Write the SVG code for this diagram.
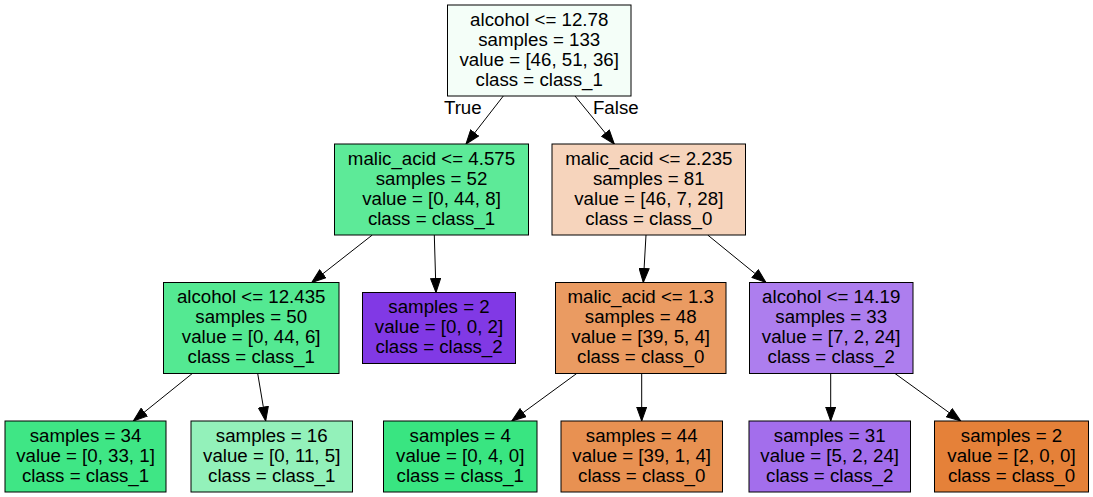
<svg xmlns="http://www.w3.org/2000/svg" width="1093" height="497" viewBox="0 0 1093 497">
<defs>
<marker id="arr" markerUnits="userSpaceOnUse" markerWidth="15" markerHeight="11" viewBox="0 0 15 11" refX="14.5" refY="5.5" orient="auto">
<path d="M0.5,0.5 L14.5,5.5 L0.5,10.5 z" fill="#000" stroke="#000" stroke-width="1"/>
</marker>
</defs>
<style>
rect{stroke:#000;stroke-width:1}
text{font-family:"Liberation Sans",Arial,Helvetica,sans-serif;font-size:18.7px;fill:#000;text-anchor:middle}
.e line{stroke:#000;stroke-width:1;marker-end:url(#arr)}
</style>
<rect x="0" y="0" width="1093" height="497" fill="#fff" style="stroke:none"/>
<g class="e" id="edges">
<line x1="503.3" y1="96" x2="466" y2="144"/>
<line x1="575" y1="96" x2="614.3" y2="144"/>
<line x1="372.3" y1="235" x2="311.7" y2="282.5"/>
<line x1="434.3" y1="235" x2="436" y2="292.5"/>
<line x1="646" y1="235" x2="643.3" y2="282.5"/>
<line x1="707.7" y1="235" x2="766" y2="282.5"/>
<line x1="192.3" y1="373.5" x2="133.3" y2="421"/>
<line x1="257.7" y1="373.5" x2="265.7" y2="421"/>
<line x1="576.7" y1="373.5" x2="511.7" y2="421"/>
<line x1="641.7" y1="373.5" x2="641.7" y2="421"/>
<line x1="830.7" y1="373.5" x2="830.7" y2="421"/>
<line x1="895" y1="373.5" x2="960.7" y2="421"/>
<text x="462.8" y="113.5">True</text>
<text x="615.8" y="113.5">False</text>
</g>
<g id="n0">
<rect x="447.5" y="5" width="183.5" height="91" fill="#f4fef8"/>
<text x="539.2" y="25.5">alcohol &lt;= 12.78</text>
<text x="539.2" y="45.5">samples = 133</text>
<text x="539.2" y="65.5">value = [46, 51, 36]</text>
<text x="539.2" y="85.5">class = class_1</text>
</g>
<g id="n1">
<rect x="334.5" y="144" width="194" height="91" fill="#5dea98"/>
<text x="431.5" y="164.5">malic_acid &lt;= 4.575</text>
<text x="431.5" y="184.5">samples = 52</text>
<text x="431.5" y="204.5">value = [0, 44, 8]</text>
<text x="431.5" y="224.5">class = class_1</text>
</g>
<g id="n2">
<rect x="163.5" y="282.5" width="175.5" height="91" fill="#54e992"/>
<text x="251.2" y="303">alcohol &lt;= 12.435</text>
<text x="251.2" y="323">samples = 50</text>
<text x="251.2" y="343">value = [0, 44, 6]</text>
<text x="251.2" y="363">class = class_1</text>
</g>
<g id="n3">
<rect x="5" y="421" width="161" height="71" fill="#3fe685"/>
<text x="85.5" y="441.5">samples = 34</text>
<text x="85.5" y="461.5">value = [0, 33, 1]</text>
<text x="85.5" y="481.5">class = class_1</text>
</g>
<g id="n4">
<rect x="191" y="421" width="161.5" height="71" fill="#93f1ba"/>
<text x="271.7" y="441.5">samples = 16</text>
<text x="271.7" y="461.5">value = [0, 11, 5]</text>
<text x="271.7" y="481.5">class = class_1</text>
</g>
<g id="n5">
<rect x="362.5" y="292.5" width="153" height="71" fill="#8139e5"/>
<text x="439" y="313">samples = 2</text>
<text x="439" y="333">value = [0, 0, 2]</text>
<text x="439" y="353">class = class_2</text>
</g>
<g id="n6">
<rect x="552" y="144" width="193.5" height="91" fill="#f6d4bc"/>
<text x="648.8" y="164.5">malic_acid &lt;= 2.235</text>
<text x="648.8" y="184.5">samples = 81</text>
<text x="648.8" y="204.5">value = [46, 7, 28]</text>
<text x="648.8" y="224.5">class = class_0</text>
</g>
<g id="n7">
<rect x="555.5" y="282.5" width="170.5" height="91" fill="#ea9b62"/>
<text x="640.7" y="303">malic_acid &lt;= 1.3</text>
<text x="640.7" y="323">samples = 48</text>
<text x="640.7" y="343">value = [39, 5, 4]</text>
<text x="640.7" y="363">class = class_0</text>
</g>
<g id="n8">
<rect x="383.5" y="421" width="153.5" height="71" fill="#39e581"/>
<text x="460.2" y="441.5">samples = 4</text>
<text x="460.2" y="461.5">value = [0, 4, 0]</text>
<text x="460.2" y="481.5">class = class_1</text>
</g>
<g id="n9">
<rect x="561" y="421" width="161.5" height="71" fill="#e89152"/>
<text x="641.7" y="441.5">samples = 44</text>
<text x="641.7" y="461.5">value = [39, 1, 4]</text>
<text x="641.7" y="481.5">class = class_0</text>
</g>
<g id="n10">
<rect x="749.5" y="282.5" width="163.5" height="91" fill="#ad7eee"/>
<text x="831.2" y="303">alcohol &lt;= 14.19</text>
<text x="831.2" y="323">samples = 33</text>
<text x="831.2" y="343">value = [7, 2, 24]</text>
<text x="831.2" y="363">class = class_2</text>
</g>
<g id="n11">
<rect x="749" y="421" width="161.5" height="71" fill="#a36eec"/>
<text x="829.7" y="441.5">samples = 31</text>
<text x="829.7" y="461.5">value = [5, 2, 24]</text>
<text x="829.7" y="481.5">class = class_2</text>
</g>
<g id="n12">
<rect x="934.5" y="421" width="154" height="71" fill="#e58139"/>
<text x="1011.5" y="441.5">samples = 2</text>
<text x="1011.5" y="461.5">value = [2, 0, 0]</text>
<text x="1011.5" y="481.5">class = class_0</text>
</g>
</svg>
